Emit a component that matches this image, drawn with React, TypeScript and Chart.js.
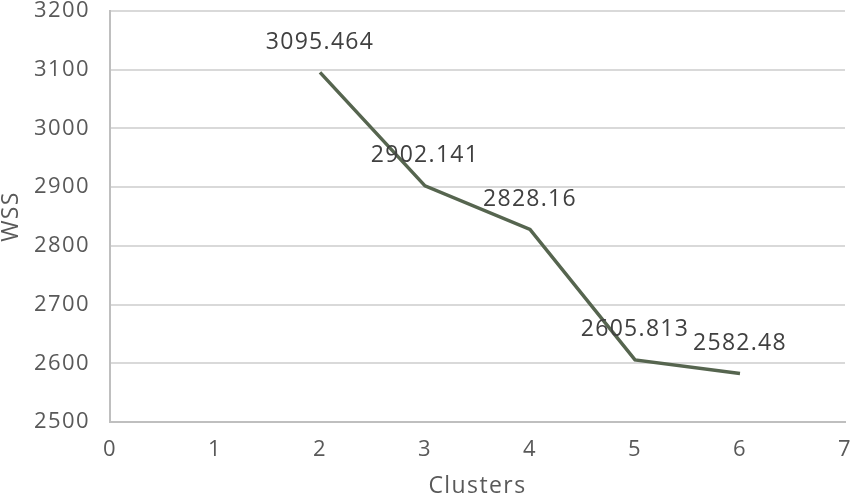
import React, { useEffect, useRef } from "react";
import { Chart, registerables } from "chart.js";

Chart.register(...registerables);

const clusters = [2, 3, 4, 5, 6];
const wss = [3095.464, 2902.141, 2828.16, 2605.813, 2582.48];
const wssLabels = ["3095.464", "2902.141", "2828.16", "2605.813", "2582.48"];

const FONT = "'Open Sans', 'DejaVu Sans', sans-serif";

const spacingPlugin = {
  id: "spacing",
  beforeLayout(chart: any) {
    chart.ctx.letterSpacing = "1.4px";
  },
  beforeDraw(chart: any) {
    chart.ctx.letterSpacing = "1.4px";
  },
};

const labelPlugin = {
  id: "pointLabels",
  afterDatasetsDraw(chart: any) {
    const ctx = chart.ctx;
    const meta = chart.getDatasetMeta(0);
    ctx.save();
    ctx.letterSpacing = "1.3px";
    ctx.font = `23px ${FONT}`;
    ctx.fillStyle = "#404040";
    ctx.textAlign = "center";
    ctx.textBaseline = "middle";
    meta.data.forEach((pt: any, i: number) => {
      ctx.fillText(wssLabels[i], pt.x, pt.y - 30);
    });
    ctx.restore();
  },
};

export default function App() {
  const ref = useRef<HTMLCanvasElement>(null);
  useEffect(() => {
    document.body.style.margin = "0";
    const chart = new Chart(ref.current!, {
      type: "line",
      data: {
        datasets: [
          {
            data: clusters.map((c, i) => ({ x: c, y: wss[i] })),
            borderColor: "#56654f",
            borderWidth: 3.5,
            pointRadius: 0,
            tension: 0,
          },
        ],
      },
      options: {
        animation: false,
        responsive: false,
        layout: { padding: { top: 11, right: 9, left: 0, bottom: 0 } },
        plugins: { legend: { display: false }, tooltip: { enabled: false } },
        scales: {
          x: {
            type: "linear",
            min: 0,
            max: 7,
            ticks: { stepSize: 1, color: "#595959", font: { family: FONT, size: 22 }, padding: 15, callback: (v: any) => String(v) },
            grid: { display: false, drawTicks: false },
            border: { color: "#bfbfbf", width: 2 },
            title: { display: true, text: "Clusters", color: "#595959", font: { family: FONT, size: 23 }, padding: { top: 4, bottom: -4 } },
            afterFit(scale: any) {
              scale.height = 74;
              scale.paddingLeft = 0;
              scale.paddingRight = 0;
            },
          },
          y: {
            min: 2500,
            max: 3200,
            ticks: { stepSize: 100, color: "#595959", font: { family: FONT, size: 22 }, padding: 20, callback: (v: any) => String(v) },
            grid: { color: "#d9d9d9", lineWidth: 2, drawTicks: false },
            border: { color: "#bfbfbf", width: 2 },
            title: { display: true, text: "WSS", color: "#595959", font: { family: FONT, size: 23 }, padding: { top: -2, bottom: 0 } },
            afterFit(scale: any) {
              scale.width = 110;
              scale.paddingTop = 0;
              scale.paddingBottom = 0;
            },
          },
        },
      },
      plugins: [spacingPlugin, labelPlugin],
    });
    return () => chart.destroy();
  }, []);
  return <canvas ref={ref} width={854} height={496} style={{ display: "block" }} />;
}
